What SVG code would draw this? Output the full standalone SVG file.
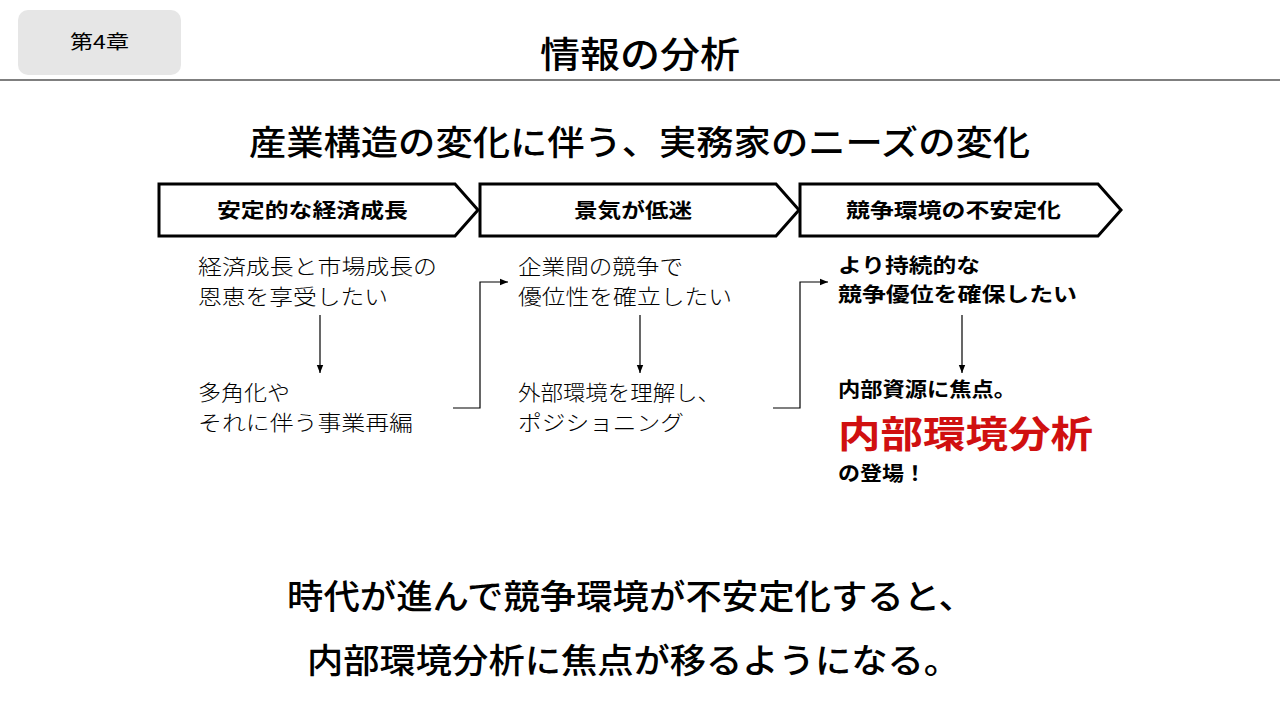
<svg xmlns="http://www.w3.org/2000/svg" width="1280" height="720" viewBox="0 0 1280 720">
<defs>
<style>
text{font-family:"Noto Sans CJK JP","Noto Sans",sans-serif;fill:#000}
.chev{fill:#fff;stroke:#000;stroke-width:3}
.hd{font-size:20px;font-weight:bold}
.b{font-size:21px;font-weight:300}
.bb{font-size:20px;font-weight:bold}
.ln{fill:none;stroke:#000;stroke-width:1.2}
</style>
<marker id="ah" viewBox="0 0 10 10" refX="10" refY="5" markerWidth="7" markerHeight="7" orient="auto"><path d="M0,1 L10,5 L0,9 z" fill="#000"/></marker>
</defs>
<rect x="18" y="10" width="163" height="65" rx="10" fill="#e6e6e6"/>
<text x="70" y="49" font-size="19" textLength="59" lengthAdjust="spacingAndGlyphs">第4章</text>
<text x="540" y="68" font-size="36" font-weight="500" textLength="200" lengthAdjust="spacingAndGlyphs">情報の分析</text>
<line x1="0" y1="80" x2="1280" y2="80" stroke="#000" stroke-width="1.2"/>
<text x="249" y="155" font-size="34" font-weight="500" textLength="781" lengthAdjust="spacingAndGlyphs">産業構造の変化に伴う、実務家のニーズの変化</text>
<g id="chev1"><path class="chev" d="M159,184 H455 L478,210 L455,236 H159 Z"/><text class="hd" x="217" y="218" textLength="191" lengthAdjust="spacingAndGlyphs">安定的な経済成長</text></g>
<g id="chev2"><path class="chev" d="M480,184 H776 L799,210 L776,236 H480 Z"/><text class="hd" x="574" y="218" textLength="118" lengthAdjust="spacingAndGlyphs">景気が低迷</text></g>
<g id="chev3"><path class="chev" d="M800,184 H1098 L1121,210 L1098,236 H800 Z"/><text class="hd" x="846" y="218" textLength="215" lengthAdjust="spacingAndGlyphs">競争環境の不安定化</text></g>
<g id="n1"><text class="b" x="198" y="274" textLength="239" lengthAdjust="spacingAndGlyphs">経済成長と市場成長の</text><text class="b" x="198" y="304" textLength="190" lengthAdjust="spacingAndGlyphs">恩恵を享受したい</text></g>
<g id="n2"><text class="b" x="198" y="400" textLength="92" lengthAdjust="spacingAndGlyphs">多角化や</text><text class="b" x="198" y="430" textLength="215" lengthAdjust="spacingAndGlyphs">それに伴う事業再編</text></g>
<g id="n3"><text class="b" x="518" y="274" textLength="165" lengthAdjust="spacingAndGlyphs">企業間の競争で</text><text class="b" x="518" y="304" textLength="214" lengthAdjust="spacingAndGlyphs">優位性を確立したい</text></g>
<g id="n4"><text class="b" x="518" y="400" textLength="202" lengthAdjust="spacingAndGlyphs">外部環境を理解し、</text><text class="b" x="518" y="430" textLength="166" lengthAdjust="spacingAndGlyphs">ポジショニング</text></g>
<g id="n5"><text class="bb" x="838" y="273" textLength="142" lengthAdjust="spacingAndGlyphs">より持続的な</text><text class="bb" x="838" y="302" textLength="239" lengthAdjust="spacingAndGlyphs">競争優位を確保したい</text></g>
<g id="n6"><text class="bb" x="838" y="397" textLength="178" lengthAdjust="spacingAndGlyphs">内部資源に焦点。</text><text x="838" y="448" font-size="37" font-weight="bold" style="fill:#d01010" textLength="255" lengthAdjust="spacingAndGlyphs">内部環境分析</text><text class="bb" x="838" y="481" textLength="88" lengthAdjust="spacingAndGlyphs">の登場！</text></g>
<g id="connectors">
<line class="ln" x1="320" y1="315" x2="320" y2="373" marker-end="url(#ah)"/>
<line class="ln" x1="640" y1="315" x2="640" y2="373" marker-end="url(#ah)"/>
<line class="ln" x1="962" y1="315" x2="962" y2="373" marker-end="url(#ah)"/>
<polyline class="ln" points="453,408 480,408 480,282 508,282" marker-end="url(#ah)"/>
<polyline class="ln" points="773,408 800,408 800,282 828,282" marker-end="url(#ah)"/>
</g>
<text x="287" y="609" font-size="34" font-weight="500" textLength="688" lengthAdjust="spacingAndGlyphs">時代が進んで競争環境が不安定化すると、</text>
<text x="307" y="673" font-size="34" font-weight="500" textLength="653" lengthAdjust="spacingAndGlyphs">内部環境分析に焦点が移るようになる。</text>
</svg>
